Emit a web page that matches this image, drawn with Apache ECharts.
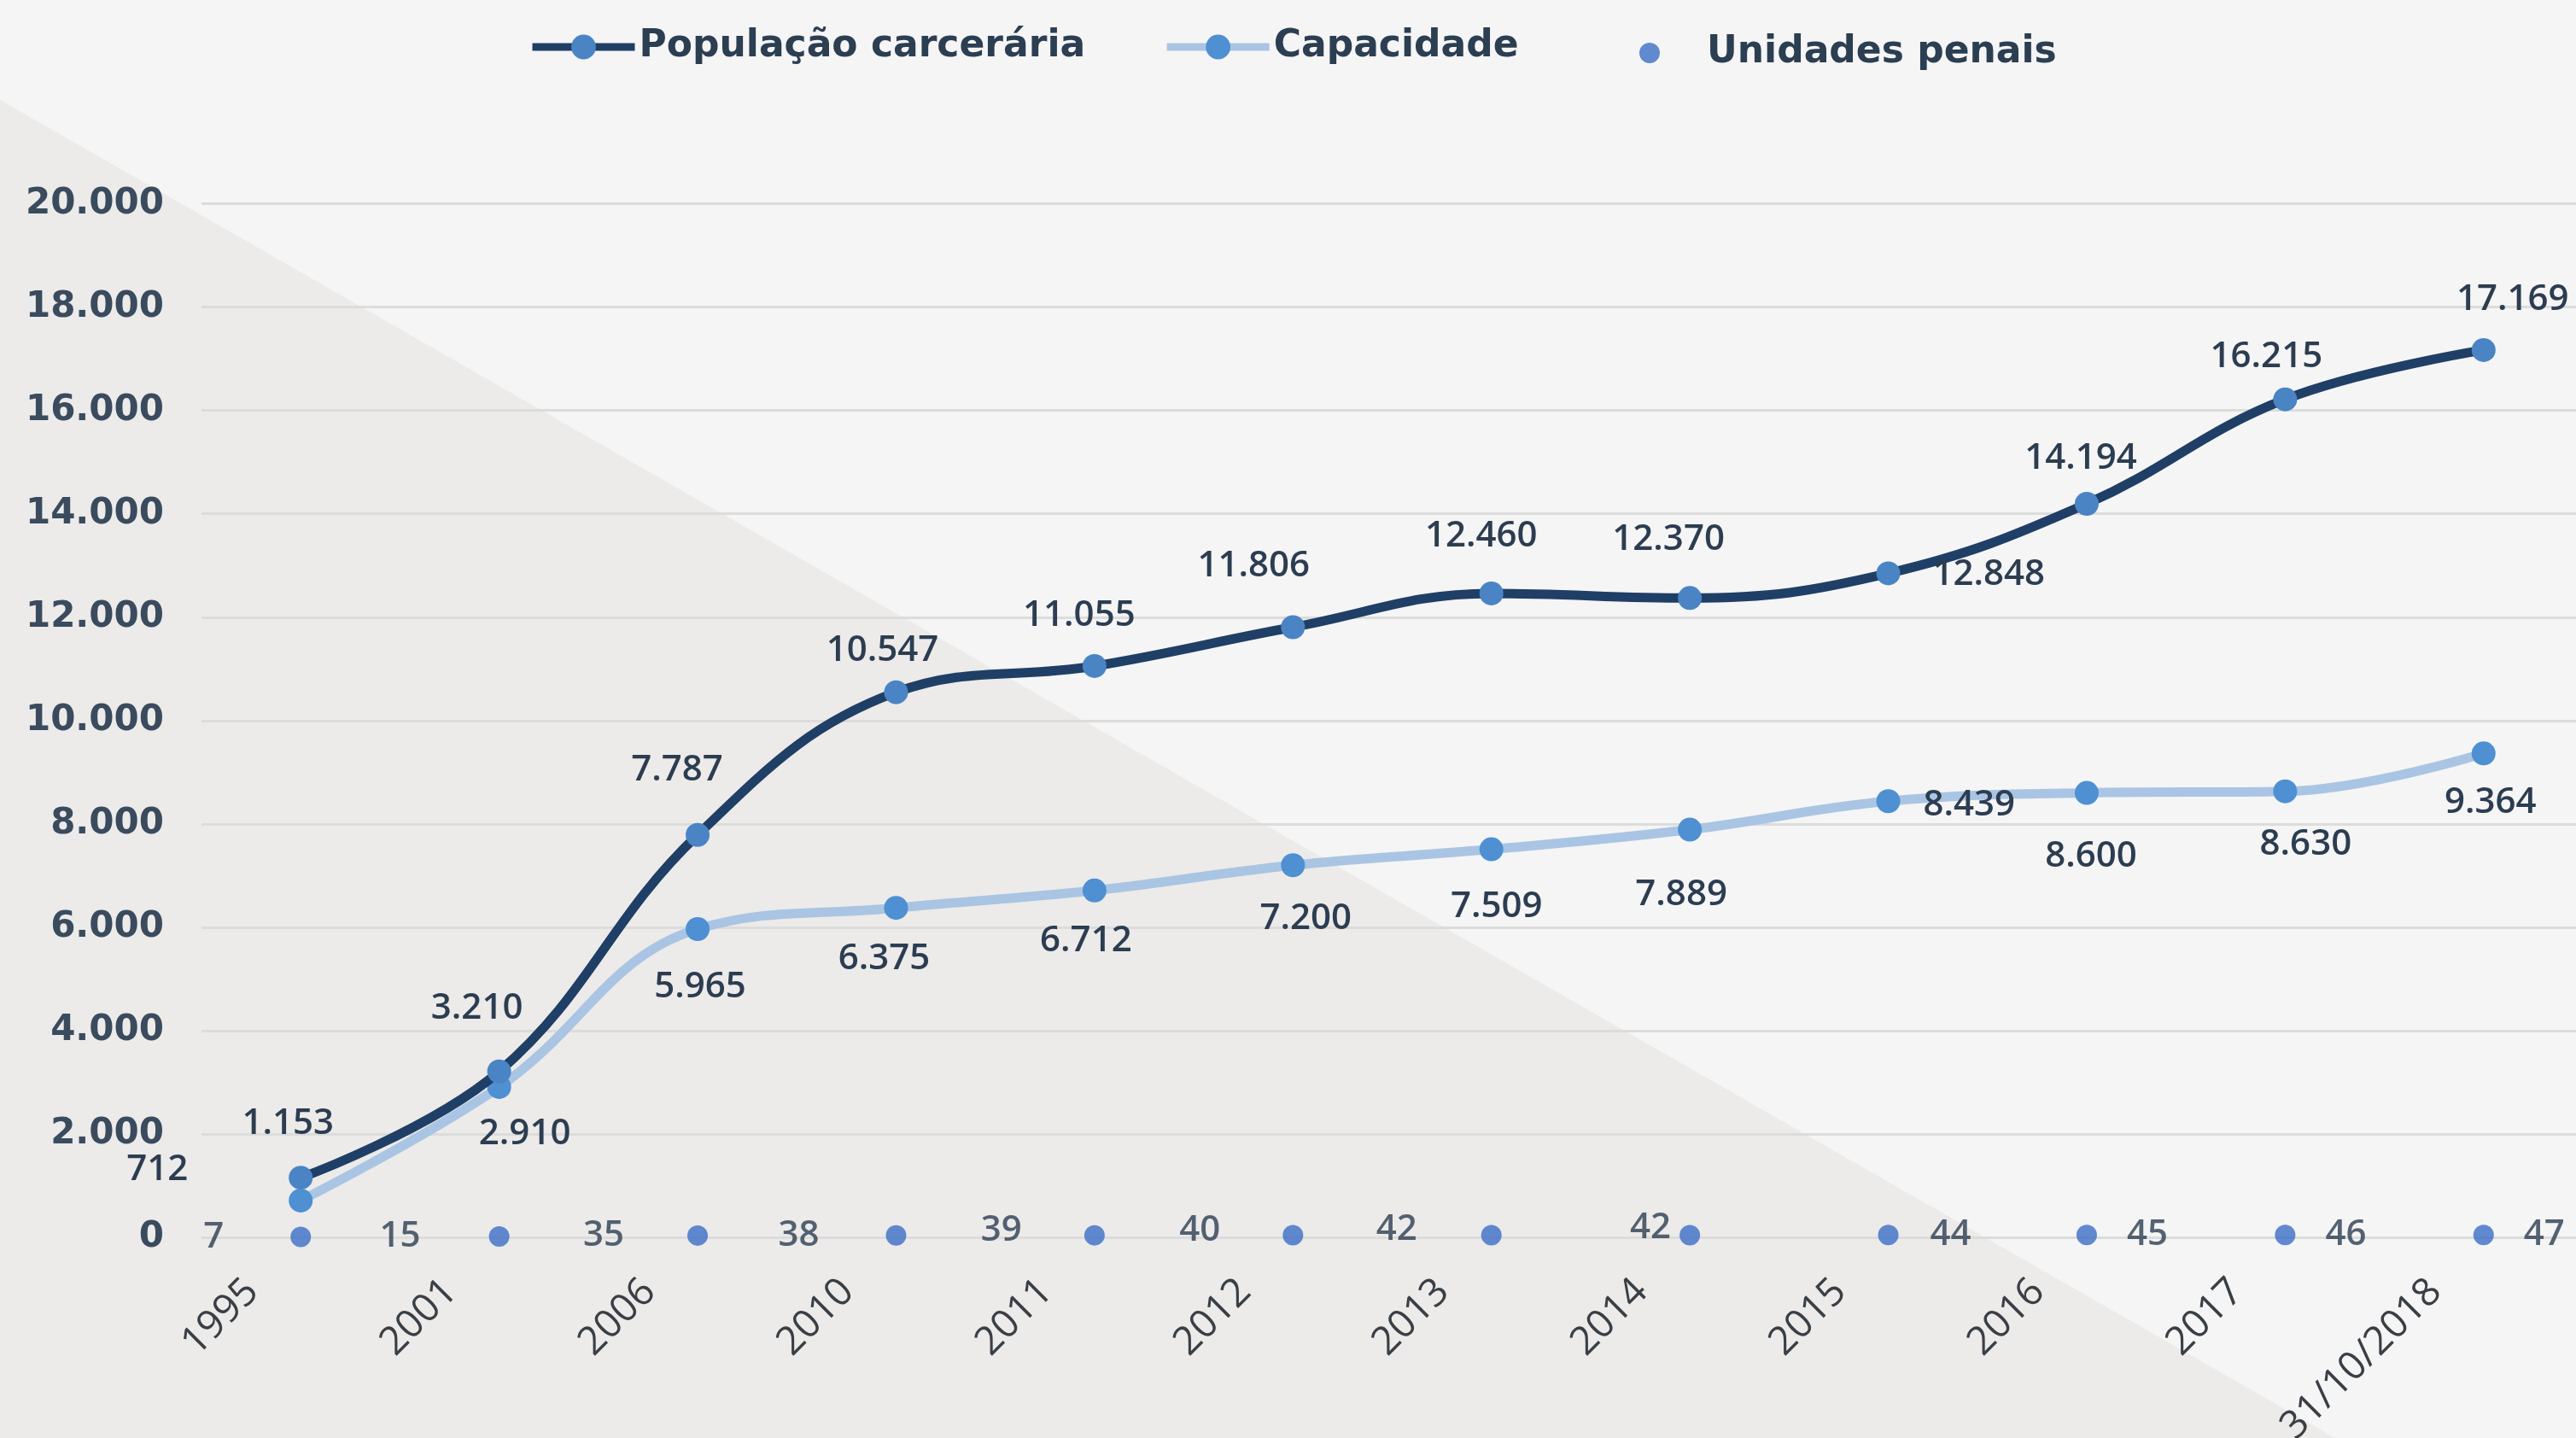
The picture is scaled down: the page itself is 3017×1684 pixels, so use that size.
<!DOCTYPE html>
<html>
<head>
<meta charset="utf-8">
<title>População carcerária</title>
<script src="https://cdn.jsdelivr.net/npm/echarts@6/dist/echarts.min.js"></script>
<style>
    html, body { margin: 0; padding: 0; background: #f5f5f5; }
    #main { width: 3017px; height: 1684px; }
</style>
</head>
<body>
<div id="main"></div>
<script>
    var categorias = ['1995', '2001', '2006', '2010', '2011', '2012', '2013', '2014', '2015', '2016', '2017', '31/10/2018'];
    var populacao = [1153, 3210, 7787, 10547, 11055, 11806, 12460, 12370, 12848, 14194, 16215, 17169];
    var capacidade = [712, 2910, 5965, 6375, 6712, 7200, 7509, 7889, 8439, 8600, 8630, 9364];
    var unidades = [7, 15, 35, 38, 39, 40, 42, 42, 44, 45, 46, 47];

    // posição dos rótulos
    var popLabel = [
        {offset: [-15, -10]}, {offset: [-26, -21]}, {offset: [-24, -23]}, {offset: [-16, 4]},
        {offset: [-18, -6]}, {offset: [-46, -18]}, {offset: [-12, -14]}, {offset: [-25, -15]},
        {position: 'right', distance: 38, offset: [0, 2]}, {offset: [-7, 0]}, {offset: [-22, 3]}, {offset: [34, -6]}
    ];
    var capLabel = [
        {position: 'left', distance: 118, offset: [0, -36]}, {offset: [30, 2]}, {offset: [3, 15]}, {offset: [-14, 7]},
        {offset: [-10, 6]}, {offset: [15, 10]}, {offset: [6, 14]}, {offset: [-10, 23]},
        {position: 'right', distance: 27, offset: [0, 5]}, {offset: [5, 22]}, {offset: [24, 9]}, {offset: [8, 5]}
    ];
    var uniLabel = [
        {position: 'left', distance: 78}, {position: 'left', distance: 80}, {position: 'left', distance: 74},
        {position: 'left', distance: 78}, {position: 'left', distance: 73, offset: [0, -6]},
        {position: 'left', distance: 73, offset: [0, -6]}, {position: 'left', distance: 75, offset: [0, -6]},
        {position: 'left', distance: 10, offset: [0, -8]}, {position: 'right', distance: 37},
        {position: 'right', distance: 35}, {position: 'right', distance: 35}, {position: 'right', distance: 35}
    ];

    function milhar(v) {
        return String(v).replace(/\B(?=(\d{3})+(?!\d))/g, '.');
    }

    function comRotulos(valores, rotulos) {
        return valores.map(function (v, i) {
            return {value: v, label: rotulos[i]};
        });
    }

    var fonteRotulo = {
        show: true,
        fontFamily: 'Open Sans',
        fontWeight: 600,
        fontSize: 42,
        color: '#2c3d51',
        formatter: function (p) {
            return milhar(p.value);
        }
    };
    var fonteLegenda = {fontFamily: 'DejaVu Sans', fontWeight: 'bold', fontSize: 44, color: '#2b3e52'};

    var chart = echarts.init(document.getElementById('main'));
    var option = {
        backgroundColor: '#f5f5f5',
        animation: false,
        graphic: [{
            type: 'polygon',
            z: -10,
            silent: true,
            shape: {points: [[0, 117], [2735, 1684], [0, 1684]]},
            style: {fill: '#ecebe9'}
        }],
        legend: [{
            left: 614,
            top: 28,
            itemWidth: 120,
            itemHeight: 36,
            itemGap: 91,
            data: [
                {name: 'População carcerária', lineStyle: {width: 9}},
                {name: 'Capacidade', lineStyle: {width: 9}}
            ],
            textStyle: fonteLegenda
        }, {
            left: 1915,
            top: 35,
            itemWidth: 124,
            itemHeight: 24,
            data: [{name: 'Unidades penais', icon: 'circle'}],
            textStyle: fonteLegenda
        }],
        grid: {left: 236, right: -8, top: 238.6, bottom: 235, outerBoundsMode: 'none'},
        xAxis: {
            type: 'category',
            data: categorias,
            axisLine: {show: false},
            axisTick: {show: false},
            axisLabel: {
                rotate: 45,
                margin: 0,
                padding: [0, 80, 0, 0],
                fontFamily: 'Open Sans',
                fontSize: 46,
                color: '#3a3f46'
            }
        },
        yAxis: {
            type: 'value',
            min: 0,
            max: 20000,
            interval: 2000,
            axisLabel: {
                margin: 44,
                fontFamily: 'DejaVu Sans',
                fontWeight: 'bold',
                fontSize: 42,
                color: '#3a4b5e',
                formatter: milhar
            },
            splitLine: {lineStyle: {color: '#dcdcdc', width: 3}}
        },
        series: [{
            name: 'População carcerária',
            type: 'line',
            smooth: 0.4,
            data: comRotulos(populacao, popLabel),
            symbol: 'circle',
            symbolSize: 28,
            lineStyle: {color: '#1f3f66', width: 11},
            itemStyle: {color: '#4a84c4'},
            label: Object.assign({}, fonteRotulo, {position: 'top', distance: 18}),
            z: 3
        }, {
            name: 'Capacidade',
            type: 'line',
            smooth: 0.4,
            data: comRotulos(capacidade, capLabel),
            symbol: 'circle',
            symbolSize: 28,
            lineStyle: {color: '#a9c5e3', width: 11},
            itemStyle: {color: '#4e90d2'},
            label: Object.assign({}, fonteRotulo, {position: 'bottom', distance: 18}),
            z: 2
        }, {
            name: 'Unidades penais',
            type: 'scatter',
            data: comRotulos(unidades, uniLabel),
            symbol: 'circle',
            symbolSize: 24,
            itemStyle: {color: '#3b6ec6'},
            label: fonteRotulo,
            z: 4
        }]
    };
    chart.setOption(option, true);
</script>
</body>
</html>
